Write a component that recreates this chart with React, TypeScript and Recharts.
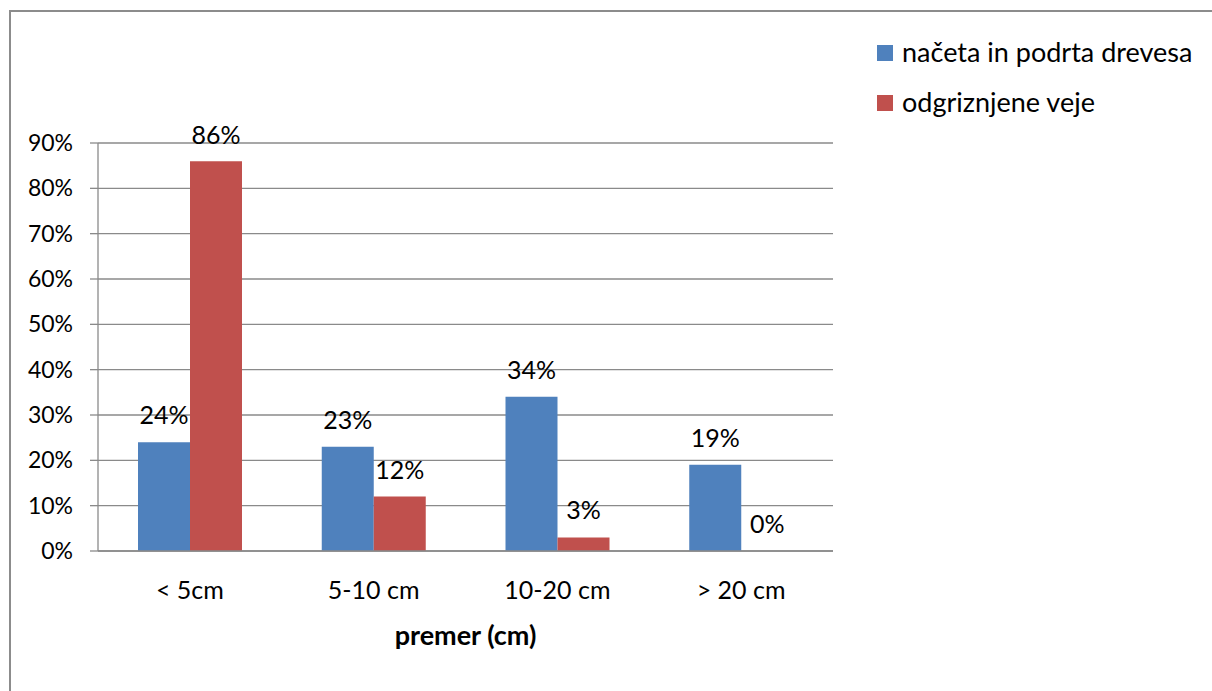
import { BarChart, Bar, XAxis, YAxis, CartesianGrid, LabelList, Label, Legend } from "recharts"

const categories = ["< 5cm", "5-10 cm", "10-20 cm", "> 20 cm"]
const nacetaValues = [24, 23, 34, 19]
const odgriznjeneValues = [86, 12, 3, 0]
const yTicks = [0, 10, 20, 30, 40, 50, 60, 70, 80, 90]

const seriesNames = ["načeta in podrta drevesa", "odgriznjene veje"]
const seriesColors = ["#4F81BD", "#C0504D"]

const FONT = "Lato, 'Open Sans', sans-serif"
const GRID = "#8A8A8A"
const PLOT_TOP = 143

const data = categories.map((name, i) => ({
  name,
  naceta: nacetaValues[i],
  odgriznjene: odgriznjeneValues[i],
}))

// value labels sit above the bar, but never higher than the top gridline allows
const renderValueLabel = (props: any) => {
  const { x, y, width, value } = props
  const cy = Math.max(y - 28, PLOT_TOP - 9)
  return (
    <text
      x={x + width / 2}
      y={cy}
      textAnchor="middle"
      dominantBaseline="central"
      fontFamily={FONT}
      fontSize={25}
      fill="#000"
    >
      {`${value}%`}
    </text>
  )
}

const renderLegend = () => (
  <div style={{ fontFamily: FONT, fontSize: 27, color: "#000", lineHeight: "27px" }}>
    {seriesNames.map((name, i) => (
      <div key={name} style={{ display: "flex", alignItems: "center", height: 50 }}>
        <span
          style={{
            display: "inline-block",
            width: 16,
            height: 16,
            marginTop: 4,
            background: seriesColors[i],
            marginRight: 9,
          }}
        />
        <span style={{ whiteSpace: "nowrap" }}>{name}</span>
      </div>
    ))}
  </div>
)

export default function App() {
  return (
    <div style={{ position: "absolute", left: 0, top: 0, width: 1212, height: 691, background: "#fff" }}>
      <div
        style={{
          position: "absolute",
          left: 9,
          top: 10,
          right: 0,
          bottom: 0,
          borderLeft: "2px solid #8C8C8C",
          borderTop: "2px solid #8C8C8C",
        }}
      />
      <BarChart
        width={1212}
        height={691}
        data={data}
        margin={{ top: PLOT_TOP, right: 379, left: 0, bottom: 40 }}
        barGap={0}
        style={{ position: "absolute", left: 0, top: 0 }}
      >
        <CartesianGrid vertical={false} stroke={GRID} strokeWidth={1.3} />
        <XAxis
          dataKey="name"
          height={100}
          tickLine={false}
          tickSize={0}
          tickMargin={30}
          axisLine={{ stroke: GRID, strokeWidth: 1.3 }}
          tick={{ fill: "#000", fontSize: 25, fontFamily: FONT }}
        >
          <Label
            value="premer (cm)"
            position="insideTop"
            offset={75}
            fill="#000"
            fontSize={27}
            fontFamily={FONT}
            fontWeight="bold"
          />
        </XAxis>
        <YAxis
          width={98}
          domain={[0, 90]}
          ticks={yTicks}
          interval={0}
          tickSize={8}
          tickMargin={17}
          tickLine={{ stroke: GRID, strokeWidth: 1.3 }}
          axisLine={{ stroke: GRID, strokeWidth: 1.3 }}
          tick={{ fill: "#000", fontSize: 23, fontFamily: FONT }}
          tickFormatter={(v) => `${v}%`}
        />
        <Legend
          layout="vertical"
          verticalAlign="middle"
          align="center"
          content={renderLegend}
          wrapperStyle={{ position: "absolute", left: 877, top: 26, width: 330, height: 100 }}
        />
        <Bar dataKey="naceta" name={seriesNames[0]} fill={seriesColors[0]} barSize={52} isAnimationActive={false}>
          <LabelList dataKey="naceta" content={renderValueLabel} />
        </Bar>
        <Bar
          dataKey="odgriznjene"
          name={seriesNames[1]}
          fill={seriesColors[1]}
          barSize={52}
          minPointSize={(v: number) => (v === 0 ? 0.01 : 0)}
          isAnimationActive={false}
        >
          <LabelList dataKey="odgriznjene" content={renderValueLabel} />
        </Bar>
      </BarChart>
    </div>
  )
}
